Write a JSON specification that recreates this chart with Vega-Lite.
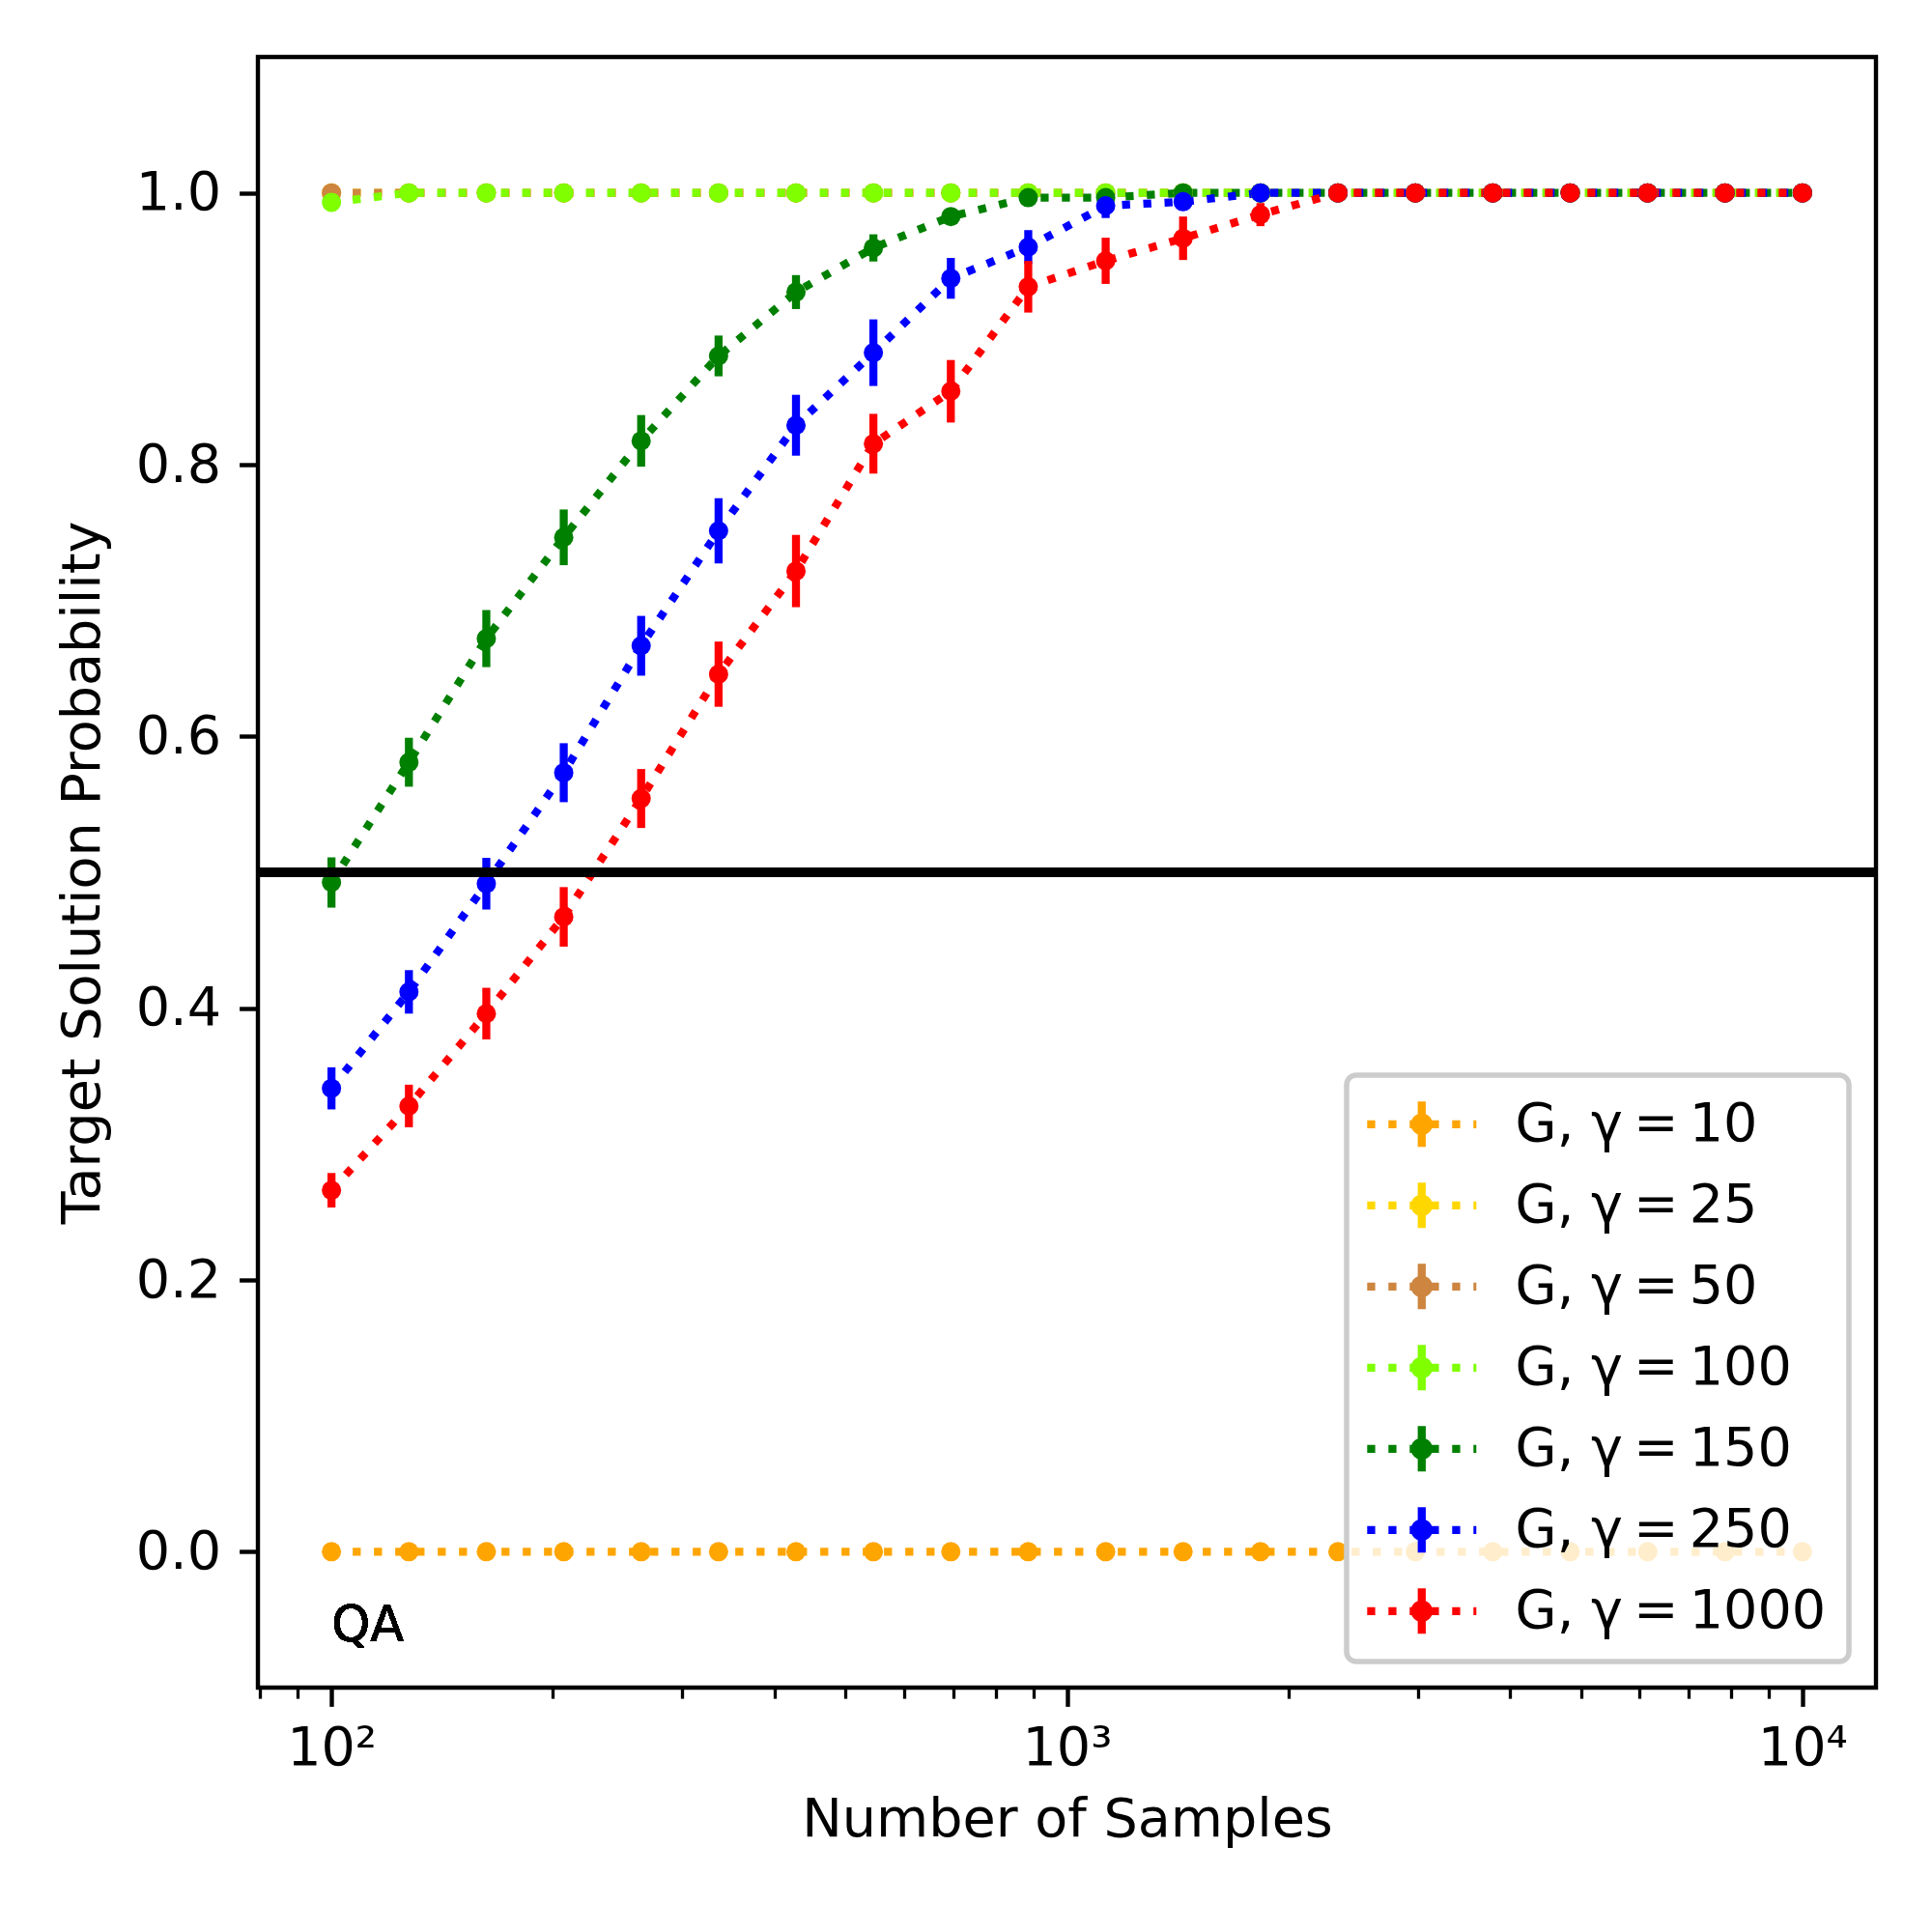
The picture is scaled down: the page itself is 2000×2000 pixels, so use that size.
{
  "$schema": "https://vega.github.io/schema/vega-lite/v6.json",
  "width": 1675,
  "height": 1688,
  "autosize": {"type": "none"},
  "padding": {"left": 267, "top": 59, "right": 58, "bottom": 253},
  "background": "white",
  "data": {
    "values": [
      {"g": 10, "x": 100, "p": 0, "e": 0}, {"g": 10, "x": 127.43, "p": 0, "e": 0}, {"g": 10, "x": 162.38, "p": 0, "e": 0}, {"g": 10, "x": 206.91, "p": 0, "e": 0}, {"g": 10, "x": 263.67, "p": 0, "e": 0},
      {"g": 10, "x": 335.98, "p": 0, "e": 0}, {"g": 10, "x": 428.13, "p": 0, "e": 0}, {"g": 10, "x": 545.56, "p": 0, "e": 0}, {"g": 10, "x": 695.19, "p": 0, "e": 0}, {"g": 10, "x": 885.87, "p": 0, "e": 0},
      {"g": 10, "x": 1128.84, "p": 0, "e": 0}, {"g": 10, "x": 1438.45, "p": 0, "e": 0}, {"g": 10, "x": 1832.98, "p": 0, "e": 0}, {"g": 10, "x": 2335.72, "p": 0, "e": 0}, {"g": 10, "x": 2976.35, "p": 0, "e": 0},
      {"g": 10, "x": 3792.69, "p": 0, "e": 0}, {"g": 10, "x": 4832.93, "p": 0, "e": 0}, {"g": 10, "x": 6158.48, "p": 0, "e": 0}, {"g": 10, "x": 7847.6, "p": 0, "e": 0}, {"g": 10, "x": 10000, "p": 0, "e": 0},

      {"g": 25, "x": 100, "p": 1, "e": 0}, {"g": 25, "x": 127.43, "p": 1, "e": 0}, {"g": 25, "x": 162.38, "p": 1, "e": 0}, {"g": 25, "x": 206.91, "p": 1, "e": 0}, {"g": 25, "x": 263.67, "p": 1, "e": 0},
      {"g": 25, "x": 335.98, "p": 1, "e": 0}, {"g": 25, "x": 428.13, "p": 1, "e": 0}, {"g": 25, "x": 545.56, "p": 1, "e": 0}, {"g": 25, "x": 695.19, "p": 1, "e": 0}, {"g": 25, "x": 885.87, "p": 1, "e": 0},
      {"g": 25, "x": 1128.84, "p": 1, "e": 0}, {"g": 25, "x": 1438.45, "p": 1, "e": 0}, {"g": 25, "x": 1832.98, "p": 1, "e": 0}, {"g": 25, "x": 2335.72, "p": 1, "e": 0}, {"g": 25, "x": 2976.35, "p": 1, "e": 0},
      {"g": 25, "x": 3792.69, "p": 1, "e": 0}, {"g": 25, "x": 4832.93, "p": 1, "e": 0}, {"g": 25, "x": 6158.48, "p": 1, "e": 0}, {"g": 25, "x": 7847.6, "p": 1, "e": 0}, {"g": 25, "x": 10000, "p": 1, "e": 0},

      {"g": 50, "x": 100, "p": 1, "e": 0}, {"g": 50, "x": 127.43, "p": 1, "e": 0}, {"g": 50, "x": 162.38, "p": 1, "e": 0}, {"g": 50, "x": 206.91, "p": 1, "e": 0}, {"g": 50, "x": 263.67, "p": 1, "e": 0},
      {"g": 50, "x": 335.98, "p": 1, "e": 0}, {"g": 50, "x": 428.13, "p": 1, "e": 0}, {"g": 50, "x": 545.56, "p": 1, "e": 0}, {"g": 50, "x": 695.19, "p": 1, "e": 0}, {"g": 50, "x": 885.87, "p": 1, "e": 0},
      {"g": 50, "x": 1128.84, "p": 1, "e": 0}, {"g": 50, "x": 1438.45, "p": 1, "e": 0}, {"g": 50, "x": 1832.98, "p": 1, "e": 0}, {"g": 50, "x": 2335.72, "p": 1, "e": 0}, {"g": 50, "x": 2976.35, "p": 1, "e": 0},
      {"g": 50, "x": 3792.69, "p": 1, "e": 0}, {"g": 50, "x": 4832.93, "p": 1, "e": 0}, {"g": 50, "x": 6158.48, "p": 1, "e": 0}, {"g": 50, "x": 7847.6, "p": 1, "e": 0}, {"g": 50, "x": 10000, "p": 1, "e": 0},

      {"g": 100, "x": 100, "p": 0.993, "e": 0.004}, {"g": 100, "x": 127.43, "p": 1, "e": 0}, {"g": 100, "x": 162.38, "p": 1, "e": 0}, {"g": 100, "x": 206.91, "p": 1, "e": 0}, {"g": 100, "x": 263.67, "p": 1, "e": 0},
      {"g": 100, "x": 335.98, "p": 1, "e": 0}, {"g": 100, "x": 428.13, "p": 1, "e": 0}, {"g": 100, "x": 545.56, "p": 1, "e": 0}, {"g": 100, "x": 695.19, "p": 1, "e": 0}, {"g": 100, "x": 885.87, "p": 1, "e": 0},
      {"g": 100, "x": 1128.84, "p": 1, "e": 0}, {"g": 100, "x": 1438.45, "p": 1, "e": 0}, {"g": 100, "x": 1832.98, "p": 1, "e": 0}, {"g": 100, "x": 2335.72, "p": 1, "e": 0}, {"g": 100, "x": 2976.35, "p": 1, "e": 0},
      {"g": 100, "x": 3792.69, "p": 1, "e": 0}, {"g": 100, "x": 4832.93, "p": 1, "e": 0}, {"g": 100, "x": 6158.48, "p": 1, "e": 0}, {"g": 100, "x": 7847.6, "p": 1, "e": 0}, {"g": 100, "x": 10000, "p": 1, "e": 0},

      {"g": 150, "x": 100, "p": 0.4925, "e": 0.0185}, {"g": 150, "x": 127.43, "p": 0.581, "e": 0.018}, {"g": 150, "x": 162.38, "p": 0.672, "e": 0.021}, {"g": 150, "x": 206.91, "p": 0.7465, "e": 0.0205}, {"g": 150, "x": 263.67, "p": 0.8175, "e": 0.019},
      {"g": 150, "x": 335.98, "p": 0.88, "e": 0.015}, {"g": 150, "x": 428.13, "p": 0.927, "e": 0.0125}, {"g": 150, "x": 545.56, "p": 0.9595, "e": 0.01}, {"g": 150, "x": 695.19, "p": 0.9826, "e": 0.005}, {"g": 150, "x": 885.87, "p": 0.9965, "e": 0.003},
      {"g": 150, "x": 1128.84, "p": 0.9965, "e": 0.002}, {"g": 150, "x": 1438.45, "p": 1, "e": 0}, {"g": 150, "x": 1832.98, "p": 1, "e": 0}, {"g": 150, "x": 2335.72, "p": 1, "e": 0}, {"g": 150, "x": 2976.35, "p": 1, "e": 0},
      {"g": 150, "x": 3792.69, "p": 1, "e": 0}, {"g": 150, "x": 4832.93, "p": 1, "e": 0}, {"g": 150, "x": 6158.48, "p": 1, "e": 0}, {"g": 150, "x": 7847.6, "p": 1, "e": 0}, {"g": 150, "x": 10000, "p": 1, "e": 0},

      {"g": 250, "x": 100, "p": 0.341, "e": 0.0155}, {"g": 250, "x": 127.43, "p": 0.412, "e": 0.016}, {"g": 250, "x": 162.38, "p": 0.4916, "e": 0.019}, {"g": 250, "x": 206.91, "p": 0.5733, "e": 0.0217}, {"g": 250, "x": 263.67, "p": 0.6667, "e": 0.022},
      {"g": 250, "x": 335.98, "p": 0.7513, "e": 0.024}, {"g": 250, "x": 428.13, "p": 0.829, "e": 0.0224}, {"g": 250, "x": 545.56, "p": 0.8824, "e": 0.0245}, {"g": 250, "x": 695.19, "p": 0.9371, "e": 0.015}, {"g": 250, "x": 885.87, "p": 0.9601, "e": 0.0125},
      {"g": 250, "x": 1128.84, "p": 0.9905, "e": 0.009}, {"g": 250, "x": 1438.45, "p": 0.9935, "e": 0.004}, {"g": 250, "x": 1832.98, "p": 1, "e": 0}, {"g": 250, "x": 2335.72, "p": 1, "e": 0}, {"g": 250, "x": 2976.35, "p": 1, "e": 0},
      {"g": 250, "x": 3792.69, "p": 1, "e": 0}, {"g": 250, "x": 4832.93, "p": 1, "e": 0}, {"g": 250, "x": 6158.48, "p": 1, "e": 0}, {"g": 250, "x": 7847.6, "p": 1, "e": 0}, {"g": 250, "x": 10000, "p": 1, "e": 0},

      {"g": 1000, "x": 100, "p": 0.266, "e": 0.0127}, {"g": 1000, "x": 127.43, "p": 0.328, "e": 0.0157}, {"g": 1000, "x": 162.38, "p": 0.396, "e": 0.019}, {"g": 1000, "x": 206.91, "p": 0.4672, "e": 0.0219}, {"g": 1000, "x": 263.67, "p": 0.5543, "e": 0.0217},
      {"g": 1000, "x": 335.98, "p": 0.6458, "e": 0.024}, {"g": 1000, "x": 428.13, "p": 0.7217, "e": 0.0266}, {"g": 1000, "x": 545.56, "p": 0.8154, "e": 0.022}, {"g": 1000, "x": 695.19, "p": 0.854, "e": 0.023}, {"g": 1000, "x": 885.87, "p": 0.9309, "e": 0.019},
      {"g": 1000, "x": 1128.84, "p": 0.95, "e": 0.017}, {"g": 1000, "x": 1438.45, "p": 0.9666, "e": 0.016}, {"g": 1000, "x": 1832.98, "p": 0.984, "e": 0.0085}, {"g": 1000, "x": 2335.72, "p": 1, "e": 0}, {"g": 1000, "x": 2976.35, "p": 1, "e": 0},
      {"g": 1000, "x": 3792.69, "p": 1, "e": 0}, {"g": 1000, "x": 4832.93, "p": 1, "e": 0}, {"g": 1000, "x": 6158.48, "p": 1, "e": 0}, {"g": 1000, "x": 7847.6, "p": 1, "e": 0}, {"g": 1000, "x": 10000, "p": 1, "e": 0}
    ]
  },
  "encoding": {
    "x": {
      "field": "x",
      "type": "quantitative",
      "scale": {"type": "log", "domain": [79.43, 12589.25], "nice": false},
      "axis": {
        "title": "Number of Samples",
        "values": [80, 90, 100, 200, 300, 400, 500, 600, 700, 800, 900, 1000, 2000, 3000, 4000, 5000, 6000, 7000, 8000, 9000, 10000],
        "labelExpr": "datum.value == 100 ? '10²' : datum.value == 1000 ? '10³' : datum.value == 10000 ? '10⁴' : ''",
        "tickSize": {"condition": {"test": "datum.value == 100 || datum.value == 1000 || datum.value == 10000", "value": 19.4}, "value": 11.1},
        "tickWidth": {"condition": {"test": "datum.value == 100 || datum.value == 1000 || datum.value == 10000", "value": 4.4}, "value": 3.3},
        "labelPadding": 16,
        "titlePadding": 18,
        "labelFlush": false,
        "labelOverlap": false
      }
    },
    "y": {
      "field": "p",
      "type": "quantitative",
      "scale": {"domain": [-0.1, 1.1], "nice": false, "zero": false},
      "axis": {
        "title": "Target Solution Probability",
        "values": [0, 0.2, 0.4, 0.6, 0.8, 1.0],
        "format": ".1f",
        "tickSize": 19.4,
        "tickWidth": 4.4,
        "labelPadding": 19,
        "titlePadding": 26
      }
    }
  },
  "layer": [
    {
      "mark": {"type": "line", "strokeWidth": 8.3, "strokeDash": [8.3, 13.7], "strokeCap": "butt"},
      "encoding": {
        "stroke": {"field": "g", "type": "nominal", "legend": null,
          "scale": {"domain": [1000, 250, 150, 100, 50, 25, 10], "range": ["#ff0000", "#0000ff", "#008000", "#7fff00", "#cd853f", "#ffd700", "#ffa500"]}}
      }
    },
    {
      "mark": {"type": "errorbar", "thickness": 8.3},
      "encoding": {
        "yError": {"field": "e"},
        "stroke": {"field": "g", "type": "nominal", "legend": null}
      }
    },
    {
      "mark": {"type": "point", "filled": true, "shape": "circle", "size": 400, "opacity": 1},
      "encoding": {
        "color": {
          "field": "g",
          "type": "nominal",
          "scale": {"domain": [10, 25, 50, 100, 150, 250, 1000], "range": ["#ffa500", "#ffd700", "#cd853f", "#7fff00", "#008000", "#0000ff", "#ff0000"]},
          "legend": {
            "orient": "none",
            "legendX": 1127,
            "legendY": 1054,
            "title": null,
            "symbolType": "M-2.404,-0.177h0.353v0.353h-0.353Z M-1.468,-0.177h0.353v0.353h-0.353Z M-0.532,-0.177h0.353v0.353h-0.353Z M0.404,-0.177h0.353v0.353h-0.353Z M1.34,-0.177h0.353v0.353h-0.353Z M2.277,-0.177h0.127v0.353h-0.127Z M-0.177,-1h0.353v2h-0.353Z M-0.48,0A0.48,0.48 0 1,1 0.48,0A0.48,0.48 0 1,1 -0.48,0Z",
            "symbolSize": 2209,
            "symbolOffset": 27,
            "symbolStrokeWidth": 0,
            "symbolOpacity": 1,
            "labelOffset": 69,
            "labelFontSize": 55.6,
            "labelColor": "black",
            "labelLimit": 1000,
            "labelExpr": "'G, γ\u2009=\u2009' + datum.label",
            "rowPadding": 27,
            "padding": 23,
            "fillColor": "rgba(255,255,255,0.8)",
            "strokeColor": "#cccccc",
            "cornerRadius": 10,
            "encode": {"legend": {"update": {"strokeWidth": {"value": 5.5}}}}
          }
        }
      }
    },
    {
      "mark": {"type": "rule", "color": "black", "strokeWidth": 8.3},
      "encoding": {"x": null, "y": {"datum": 0.5}}
    },
    {
      "mark": {"type": "text", "align": "left", "baseline": "alphabetic", "fontSize": 51, "color": "black"},
      "encoding": {"x": {"datum": 100}, "y": {"datum": -0.066}, "text": {"value": "QA"}}
    }
  ],
  "config": {
    "font": "DejaVu Sans",
    "view": {"stroke": "black", "strokeWidth": 4.4},
    "axis": {
      "grid": false,
      "domain": false,
      "tickColor": "black",
      "labelColor": "black",
      "labelFontSize": 55.6,
      "titleFontSize": 55.6,
      "titleFontWeight": "normal",
      "titleColor": "black"
    }
  }
}
